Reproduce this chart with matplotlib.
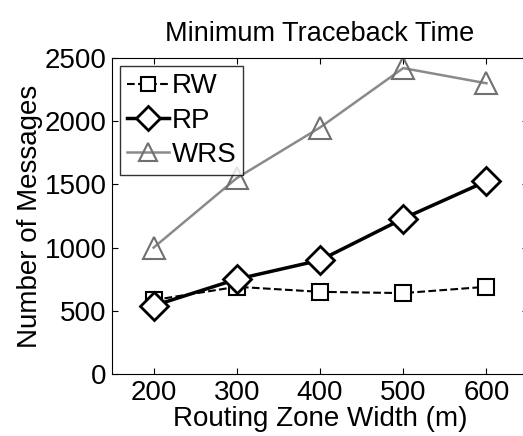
import matplotlib
matplotlib.use('Agg')
import matplotlib.pyplot as plt

plt.rcParams['font.family'] = ['Liberation Sans', 'DejaVu Sans']

widths = [200, 300, 400, 500, 600]
rw = [585, 690, 650, 640, 690]
rp = [540, 750, 900, 1230, 1525]
wrs = [1000, 1550, 1950, 2420, 2300]

fig = plt.figure(figsize=(5.23, 4.36), dpi=100)
ax = fig.add_axes([112/523, 1 - 374/436, 416/523, 316/436])

ax.plot(widths, rw, '--', color='black', lw=1.5, marker='s', ms=12,
        mfc='white', mec='black', mew=1.5, label='RW')
ax.plot(widths, wrs, '-', color='#8a8a8a', lw=1.8, marker='^', ms=16,
        mfc='none', mec='#707070', mew=1.5, label='WRS', zorder=2)
ax.plot(widths, rp, '-', color='black', lw=2.5, marker='D', ms=14,
        mfc='white', mec='black', mew=2, label='RP', zorder=3)

ax.set_xlim(150, 650)
ax.set_ylim(0, 2500)
ax.set_xticks(widths)
ax.set_yticks([0, 500, 1000, 1500, 2000, 2500])
ax.tick_params(labelsize=20, direction='in', length=4, top=True, right=True, pad=4)
ax.set_xlabel('Routing Zone Width (m)', fontsize=20, labelpad=0)
ax.set_ylabel('Number of Messages', fontsize=20, labelpad=1)
ax.set_title('Minimum Traceback Time', fontsize=19.5, pad=12)

h, l = ax.get_legend_handles_labels()
order = [0, 2, 1]
leg = ax.legend([h[i] for i in order], [l[i] for i in order], loc='upper left',
                fontsize=20, frameon=True, fancybox=False, edgecolor='black',
                handlelength=1.5, handletextpad=0.1, borderpad=0.25,
                labelspacing=0.3, borderaxespad=0.3, markerscale=0.85)
leg.get_frame().set_linewidth(1.0)

fig.savefig('out.png', dpi=100)
